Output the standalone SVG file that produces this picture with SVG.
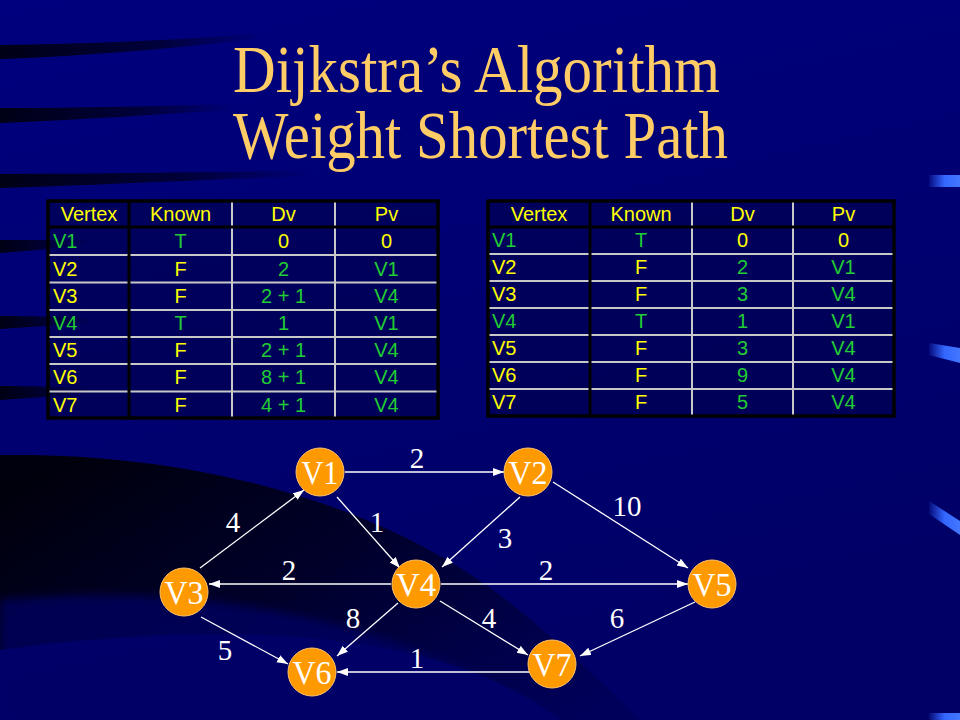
<svg xmlns="http://www.w3.org/2000/svg" width="960" height="720" viewBox="0 0 960 720">
<defs>
<linearGradient id="bg" x1="0" y1="0" x2="0.3" y2="1">
<stop offset="0" stop-color="#00007E"/>
<stop offset="1" stop-color="#000066"/>
</linearGradient>
<linearGradient id="fadeR" x1="0" y1="0" x2="1" y2="0">
<stop offset="0" stop-color="#000010" stop-opacity="0.95"/>
<stop offset="0.6" stop-color="#000010" stop-opacity="0.6"/>
<stop offset="1" stop-color="#000010" stop-opacity="0"/>
</linearGradient>
<linearGradient id="swoosh" x1="0" y1="0.2" x2="1" y2="0.9">
<stop offset="0" stop-color="#000008" stop-opacity="0.95"/>
<stop offset="0.45" stop-color="#000010" stop-opacity="0.7"/>
<stop offset="1" stop-color="#000020" stop-opacity="0.15"/>
</linearGradient>
<linearGradient id="bar" x1="0" y1="0" x2="1" y2="0">
<stop offset="0" stop-color="#3366FF" stop-opacity="0.1"/>
<stop offset="0.5" stop-color="#3366FF" stop-opacity="1"/>
<stop offset="1" stop-color="#4477FF" stop-opacity="1"/>
</linearGradient>
<filter id="soft" x="-10%" y="-10%" width="120%" height="120%">
<feGaussianBlur stdDeviation="4"/>
</filter>
<marker id="ah" markerWidth="12" markerHeight="10" refX="11" refY="4" orient="auto" markerUnits="userSpaceOnUse">
<path d="M0,0 L11,4 L0,8 Z" fill="#FFFFFF"/>
</marker>
</defs>
<style>
.title{font-family:"Liberation Serif","Times New Roman",serif;font-size:68px;fill:#FFCC66;text-anchor:middle}
.tb{font-family:"Liberation Sans",Arial,sans-serif;font-size:20px}
.c{text-anchor:middle}
.y{fill:#FFFF00}
.g{fill:#22CC33}
.outer{fill:#000048;fill-opacity:0.55;stroke:#000000;stroke-width:3}
.dk{stroke:#000000;stroke-width:3}
.lt{stroke:#C8C8C8;stroke-width:2}
.node circle{fill:#FF9900;stroke:#FFC266;stroke-width:1}
.node text{font-family:"Liberation Serif","Times New Roman",serif;font-size:33px;fill:#FFFFFF;text-anchor:middle}
.edge{stroke:#FFFFFF;stroke-width:1.3;fill:none;marker-end:url(#ah)}
.lbl{font-family:"Liberation Serif","Times New Roman",serif;font-size:29px;fill:#FFFFFF;text-anchor:middle}
</style>

<!-- background -->
<rect x="0" y="0" width="960" height="720" fill="url(#bg)"/>
<g id="background">
<path d="M0,45 C90,44 180,40 265,33 L265,38 C180,48 90,56 0,59 Z" fill="url(#fadeR)"/>
<path d="M0,108 C80,108 160,106 235,104 L235,110 C160,114 80,120 0,123 Z" fill="url(#fadeR)"/>
<path d="M0,174 C100,174 200,172 310,171 L310,176 C200,180 100,185 0,188 Z" fill="url(#fadeR)"/>
<path d="M0,240 C30,240 60,240 90,240 L90,244 C60,248 30,251 0,253 Z" fill="url(#fadeR)"/>
<path d="M0,316 C30,316 60,317 95,318 L95,322 C60,325 30,327 0,329 Z" fill="url(#fadeR)"/>
<path d="M0,386 C30,386 60,387 95,388 L95,392 C60,396 30,398 0,400 Z" fill="url(#fadeR)"/>
<path d="M0,455 C200,452 380,505 500,595 C560,642 605,685 640,720 L560,720 C470,650 300,610 0,650 Z" fill="url(#swoosh)"/>
<path d="M0,600 C200,580 400,620 560,720 L0,720 Z" fill="#000066" fill-opacity="0.7" filter="url(#soft)"/>
<path d="M929,175 L960,175 L960,187 L929,187 Z" fill="url(#bar)"/>
<path d="M929,343 L960,348 L960,363 L929,355 Z" fill="url(#bar)"/>
<path d="M929,501 L960,521 L960,535 L929,514 Z" fill="url(#bar)"/>
<path d="M929,713 L960,713 L960,720 L929,720 Z" fill="url(#bar)"/>
</g>

<!-- title -->
<g id="title">
<text class="title" x="476.5" y="92" textLength="487" lengthAdjust="spacingAndGlyphs">Dijkstra’s Algorithm</text>
<text class="title" x="480.5" y="158" textLength="495" lengthAdjust="spacingAndGlyphs">Weight Shortest Path</text>
</g>

<!-- left table -->
<g id="table-left" class="tb">
<rect class="outer" x="48" y="201" width="390" height="217"/>
<line class="lt" x1="48" y1="255" x2="438" y2="255"/>
<line class="lt" x1="48" y1="282.5" x2="438" y2="282.5"/>
<line class="lt" x1="48" y1="310" x2="438" y2="310"/>
<line class="lt" x1="48" y1="337" x2="438" y2="337"/>
<line class="lt" x1="48" y1="364" x2="438" y2="364"/>
<line class="lt" x1="48" y1="391.5" x2="438" y2="391.5"/>
<line class="lt" x1="232" y1="201" x2="232" y2="418"/>
<line class="lt" x1="335" y1="201" x2="335" y2="418"/>
<line class="dk" x1="129" y1="201" x2="129" y2="418"/>
<line class="dk" x1="48" y1="227" x2="438" y2="227"/>
<rect x="48" y="201" width="390" height="217" fill="none" stroke="#000" stroke-width="3"/>
<text class="y c" x="89" y="221">Vertex</text>
<text class="y c" x="180.5" y="221">Known</text>
<text class="y c" x="283.5" y="221">Dv</text>
<text class="y c" x="386.5" y="221">Pv</text>

<text class="g" x="53" y="248">V1</text><text class="g c" x="180.5" y="248">T</text><text class="y c" x="283.5" y="248">0</text><text class="y c" x="386.5" y="248">0</text>
<text class="y" x="53" y="276">V2</text><text class="y c" x="180.5" y="276">F</text><text class="g c" x="283.5" y="276">2</text><text class="g c" x="386.5" y="276">V1</text>
<text class="y" x="53" y="303">V3</text><text class="y c" x="180.5" y="303">F</text><text class="g c" x="283.5" y="303">2 + 1</text><text class="g c" x="386.5" y="303">V4</text>
<text class="g" x="53" y="330">V4</text><text class="g c" x="180.5" y="330">T</text><text class="g c" x="283.5" y="330">1</text><text class="g c" x="386.5" y="330">V1</text>
<text class="y" x="53" y="357">V5</text><text class="y c" x="180.5" y="357">F</text><text class="g c" x="283.5" y="357">2 + 1</text><text class="g c" x="386.5" y="357">V4</text>
<text class="y" x="53" y="384">V6</text><text class="y c" x="180.5" y="384">F</text><text class="g c" x="283.5" y="384">8 + 1</text><text class="g c" x="386.5" y="384">V4</text>
<text class="y" x="53" y="412">V7</text><text class="y c" x="180.5" y="412">F</text><text class="g c" x="283.5" y="412">4 + 1</text><text class="g c" x="386.5" y="412">V4</text>
</g>

<!-- right table -->
<g id="table-right" class="tb">
<rect class="outer" x="488" y="201" width="406" height="215"/>
<line class="lt" x1="488" y1="254" x2="894" y2="254"/>
<line class="lt" x1="488" y1="281" x2="894" y2="281"/>
<line class="lt" x1="488" y1="308" x2="894" y2="308"/>
<line class="lt" x1="488" y1="335" x2="894" y2="335"/>
<line class="lt" x1="488" y1="362" x2="894" y2="362"/>
<line class="lt" x1="488" y1="389" x2="894" y2="389" stroke-width="2.5"/>
<line class="lt" x1="692" y1="201" x2="692" y2="416"/>
<line class="lt" x1="793" y1="201" x2="793" y2="416"/>
<line class="dk" x1="590" y1="201" x2="590" y2="416"/>
<line class="dk" x1="488" y1="227" x2="894" y2="227"/>
<rect x="488" y="201" width="406" height="215" fill="none" stroke="#000" stroke-width="3"/>
<text class="y c" x="539" y="221">Vertex</text>
<text class="y c" x="641" y="221">Known</text>
<text class="y c" x="742.5" y="221">Dv</text>
<text class="y c" x="843.5" y="221">Pv</text>

<text class="g" x="492" y="247">V1</text><text class="g c" x="641" y="247">T</text><text class="y c" x="742.5" y="247">0</text><text class="y c" x="843.5" y="247">0</text>
<text class="y" x="492" y="274">V2</text><text class="y c" x="641" y="274">F</text><text class="g c" x="742.5" y="274">2</text><text class="g c" x="843.5" y="274">V1</text>
<text class="y" x="492" y="301">V3</text><text class="y c" x="641" y="301">F</text><text class="g c" x="742.5" y="301">3</text><text class="g c" x="843.5" y="301">V4</text>
<text class="g" x="492" y="328">V4</text><text class="g c" x="641" y="328">T</text><text class="g c" x="742.5" y="328">1</text><text class="g c" x="843.5" y="328">V1</text>
<text class="y" x="492" y="355">V5</text><text class="y c" x="641" y="355">F</text><text class="g c" x="742.5" y="355">3</text><text class="g c" x="843.5" y="355">V4</text>
<text class="y" x="492" y="382">V6</text><text class="y c" x="641" y="382">F</text><text class="g c" x="742.5" y="382">9</text><text class="g c" x="843.5" y="382">V4</text>
<text class="y" x="492" y="409">V7</text><text class="y c" x="641" y="409">F</text><text class="g c" x="742.5" y="409">5</text><text class="g c" x="843.5" y="409">V4</text>
</g>

<!-- connectors -->
<g id="connectors">
<line class="edge" x1="345" y1="472" x2="504" y2="472"/>
<line class="edge" x1="337" y1="497" x2="400" y2="568"/>
<line class="edge" x1="520" y1="497" x2="442" y2="567"/>
<line class="edge" x1="553" y1="482" x2="688" y2="568"/>
<line class="edge" x1="200" y1="568" x2="304" y2="490"/>
<line class="edge" x1="391" y1="584" x2="209" y2="584"/>
<line class="edge" x1="441" y1="584" x2="688" y2="584"/>
<line class="edge" x1="201" y1="617" x2="288" y2="664"/>
<line class="edge" x1="398" y1="603" x2="337" y2="656"/>
<line class="edge" x1="440" y1="601" x2="528" y2="655"/>
<line class="edge" x1="695" y1="602" x2="580" y2="656"/>
<line class="edge" x1="531" y1="672" x2="337" y2="672"/>
<text class="lbl" x="417" y="468">2</text>
<text class="lbl" x="233" y="532">4</text>
<text class="lbl" x="377" y="532">1</text>
<text class="lbl" x="289" y="580">2</text>
<text class="lbl" x="353" y="628">8</text>
<text class="lbl" x="225" y="660">5</text>
<text class="lbl" x="417" y="668">1</text>
<text class="lbl" x="505" y="548">3</text>
<text class="lbl" x="627" y="516">10</text>
<text class="lbl" x="546" y="580">2</text>
<text class="lbl" x="489" y="628">4</text>
<text class="lbl" x="617" y="628">6</text>
</g>

<!-- nodes -->
<g id="node-V1" class="node"><circle cx="320" cy="472" r="24"/><text x="320" y="484" textLength="37" lengthAdjust="spacingAndGlyphs">V1</text></g>
<g id="node-V2" class="node"><circle cx="528" cy="472" r="24"/><text x="528" y="484" textLength="39" lengthAdjust="spacingAndGlyphs">V2</text></g>
<g id="node-V3" class="node"><circle cx="184" cy="592" r="24"/><text x="184" y="604" textLength="39" lengthAdjust="spacingAndGlyphs">V3</text></g>
<g id="node-V4" class="node"><circle cx="416" cy="584" r="24"/><text x="416" y="596" textLength="40" lengthAdjust="spacingAndGlyphs">V4</text></g>
<g id="node-V5" class="node"><circle cx="712" cy="584" r="24"/><text x="712" y="596" textLength="39" lengthAdjust="spacingAndGlyphs">V5</text></g>
<g id="node-V6" class="node"><circle cx="312" cy="672" r="24"/><text x="312" y="684" textLength="39" lengthAdjust="spacingAndGlyphs">V6</text></g>
<g id="node-V7" class="node"><circle cx="552" cy="664" r="24"/><text x="552" y="676" textLength="39" lengthAdjust="spacingAndGlyphs">V7</text></g>
</svg>
